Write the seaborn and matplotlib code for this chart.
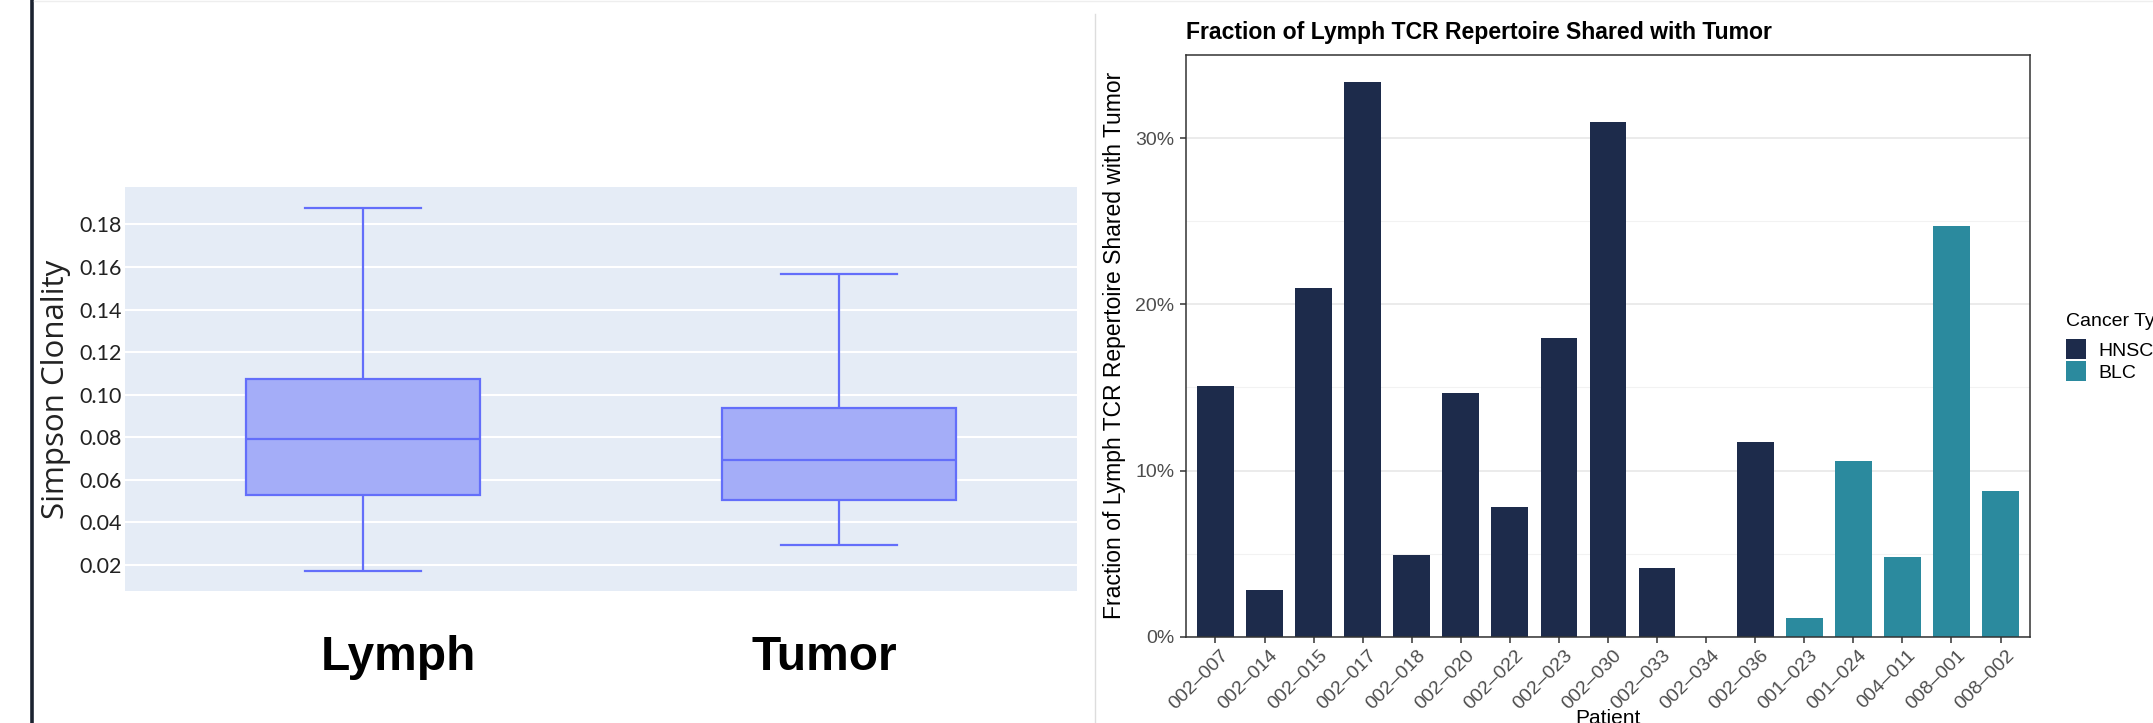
import matplotlib
matplotlib.use('Agg')
import matplotlib.pyplot as plt
import matplotlib.transforms as mtransforms
from matplotlib.lines import Line2D
from matplotlib.ticker import FixedLocator
import pandas as pd
import seaborn as sns

plt.rcParams['font.family'] = ['Liberation Sans', 'DejaVu Sans']

sample_types = ['Lymph', 'Tumor']
lymph_clonality = [0.0172, 0.0529, 0.0791, 0.1073, 0.1879]
tumor_clonality = [0.0292, 0.0507, 0.0694, 0.0938, 0.1566]
clonality_ticks = [0.02, 0.04, 0.06, 0.08, 0.10, 0.12, 0.14, 0.16, 0.18]

# Right panel: fraction of lymph TCR repertoire shared with tumor (%)
patients = ['002–007', '002–014', '002–015', '002–017', '002–018', '002–020',
            '002–022', '002–023', '002–030', '002–033', '002–034', '002–036',
            '001–023', '001–024', '004–011', '008–001', '008–002']
shared_pct = [15.06, 2.83, 20.97, 33.36, 4.89, 14.64, 7.78, 18.0, 30.94,
              4.14, 0.0, 11.72, 1.11, 10.58, 4.78, 24.69, 8.75]
cancer_type = ['HNSC'] * 12 + ['BLC'] * 5
pct_ticks = [0, 10, 20, 30]
pct_minor = [5, 15, 25]

box_df = pd.DataFrame({
    'sample': ['Lymph'] * len(lymph_clonality) + ['Tumor'] * len(tumor_clonality),
    'clonality': lymph_clonality + tumor_clonality,
})
bar_df = pd.DataFrame({'patient': patients, 'shared': shared_pct,
                       'cancer_type': cancer_type})

W, H = 2153, 723
fig = plt.figure(figsize=(W / 100, H / 100), dpi=100)

# ---------------- left: box plot (plotly look) ----------------
ax1 = fig.add_axes([125 / W, 1 - 591 / H, 952 / W, (591 - 187.3) / H])
ax1.set_facecolor('#e5ecf6')
sns.boxplot(data=box_df, x='sample', y='clonality', order=sample_types, ax=ax1,
            width=0.49, color='#a4adf8', linecolor='#636efa', linewidth=1.6,
            saturation=1, whis=(0, 100), showfliers=False)
ax1.set_xlim(-0.5, 1.5)
ax1.set_ylim(0.0078, 0.1974)
ax1.yaxis.set_major_locator(FixedLocator(clonality_ticks))
ax1.set_yticklabels([f'{t:.2f}' for t in clonality_ticks], family='Lato',
                    fontsize=15.5, color='#222222')
ax1.tick_params(axis='y', length=0, pad=2.5)
ax1.tick_params(axis='x', length=0, labelbottom=False)
ax1.grid(axis='y', color='white', linewidth=1.5)
ax1.set_axisbelow(True)
for s in ax1.spines.values():
    s.set_visible(False)
ax1.set_xlabel('')
ax1.set_ylabel('Simpson Clonality', family='Open Sans', fontsize=22.5, color='#222222')
ax1.yaxis.set_label_coords((71 - 125) / 952, 0.5)

fig.text(398.7 / W, 1 - 669.5 / H, 'Lymph', ha='center', va='baseline',
         fontsize=34.5, fontweight='bold', color='black')
fig.text(824.5 / W, 1 - 669.5 / H, 'Tumor', ha='center', va='baseline',
         fontsize=34.5, fontweight='bold', color='black')

# ---------------- right: bar chart (ggplot theme_bw look) ----------------
ax2 = fig.add_axes([1186 / W, 1 - 636.7 / H, 844 / W, 581.7 / H])
sns.barplot(data=bar_df, x='patient', y='shared', hue='cancer_type', order=patients,
            hue_order=['HNSC', 'BLC'], palette={'HNSC': '#1d2b4b', 'BLC': '#2b8a9e'},
            dodge=False, width=0.75, saturation=1, ax=ax2)
ax2.set_xlim(-0.6, len(patients) - 0.4)
ax2.set_ylim(0, 35.0)
ax2.yaxis.set_major_locator(FixedLocator(pct_ticks))
ax2.yaxis.set_minor_locator(FixedLocator(pct_minor))
ax2.set_yticklabels([f'{t}%' for t in pct_ticks])
ax2.grid(axis='y', which='major', color='#ebebeb', linewidth=1.4)
ax2.grid(axis='y', which='minor', color='#f2f2f2', linewidth=0.8)
ax2.grid(axis='x', visible=False)
ax2.set_axisbelow(True)
for s in ax2.spines.values():
    s.set_color('#333333')
    s.set_linewidth(1.1)
ax2.tick_params(axis='both', which='major', color='#333333', length=4.3, width=1.1,
                labelsize=14, labelcolor='#4d4d4d', pad=4)
ax2.tick_params(axis='y', which='minor', length=0)
ax2.tick_params(axis='x', which='major', pad=3)
offset = mtransforms.ScaledTranslation(5 / 100, 0, fig.dpi_scale_trans)
for lab in ax2.get_xticklabels():
    lab.set_rotation(45)
    lab.set_ha('right')
    lab.set_va('top')
    lab.set_rotation_mode('anchor')
    lab.set_transform(lab.get_transform() + offset)
ax2.set_xlabel('')
ax2.set_ylabel('Fraction of Lymph TCR Repertoire Shared with Tumor', fontsize=16.5,
               color='black')
ax2.yaxis.set_label_coords((1126 - 1186) / 844, 0.5)

fig.text(1186 / W, 1 - 39 / H, 'Fraction of Lymph TCR Repertoire Shared with Tumor',
         ha='left', va='baseline', fontsize=16.6, fontweight='bold')
fig.text(1608 / W, 1 - 709 / H, 'Patient', ha='center', va='top', fontsize=15)

# legend: title as its own text so the gap to the keys matches ggplot
fig.text(2066 / W, 1 - 326 / H, 'Cancer Type', ha='left', va='baseline', fontsize=14)
sns.move_legend(ax2, loc='upper left', bbox_to_anchor=(2066 / W, 1 - 339 / H),
                bbox_transform=fig.transFigure, title=None, frameon=False,
                fontsize=14, handlelength=1.03, handleheight=1.2,
                labelspacing=0.1, handletextpad=0.62, borderpad=0, borderaxespad=0)

# page decorations: dark rule at left, faint separators
fig.add_artist(Line2D([32 / W, 32 / W], [0, 1], transform=fig.transFigure,
                      color='#1b2330', linewidth=2.6))
fig.add_artist(Line2D([1094.5 / W, 1094.5 / W], [0, 1 - 14 / H],
                      transform=fig.transFigure, color='#dddddd', linewidth=1))
fig.add_artist(Line2D([34 / W, 1], [1 - 0.5 / H, 1 - 0.5 / H],
                      transform=fig.transFigure, color='#eeeeee', linewidth=1))

fig.savefig('out.png', dpi=100)
